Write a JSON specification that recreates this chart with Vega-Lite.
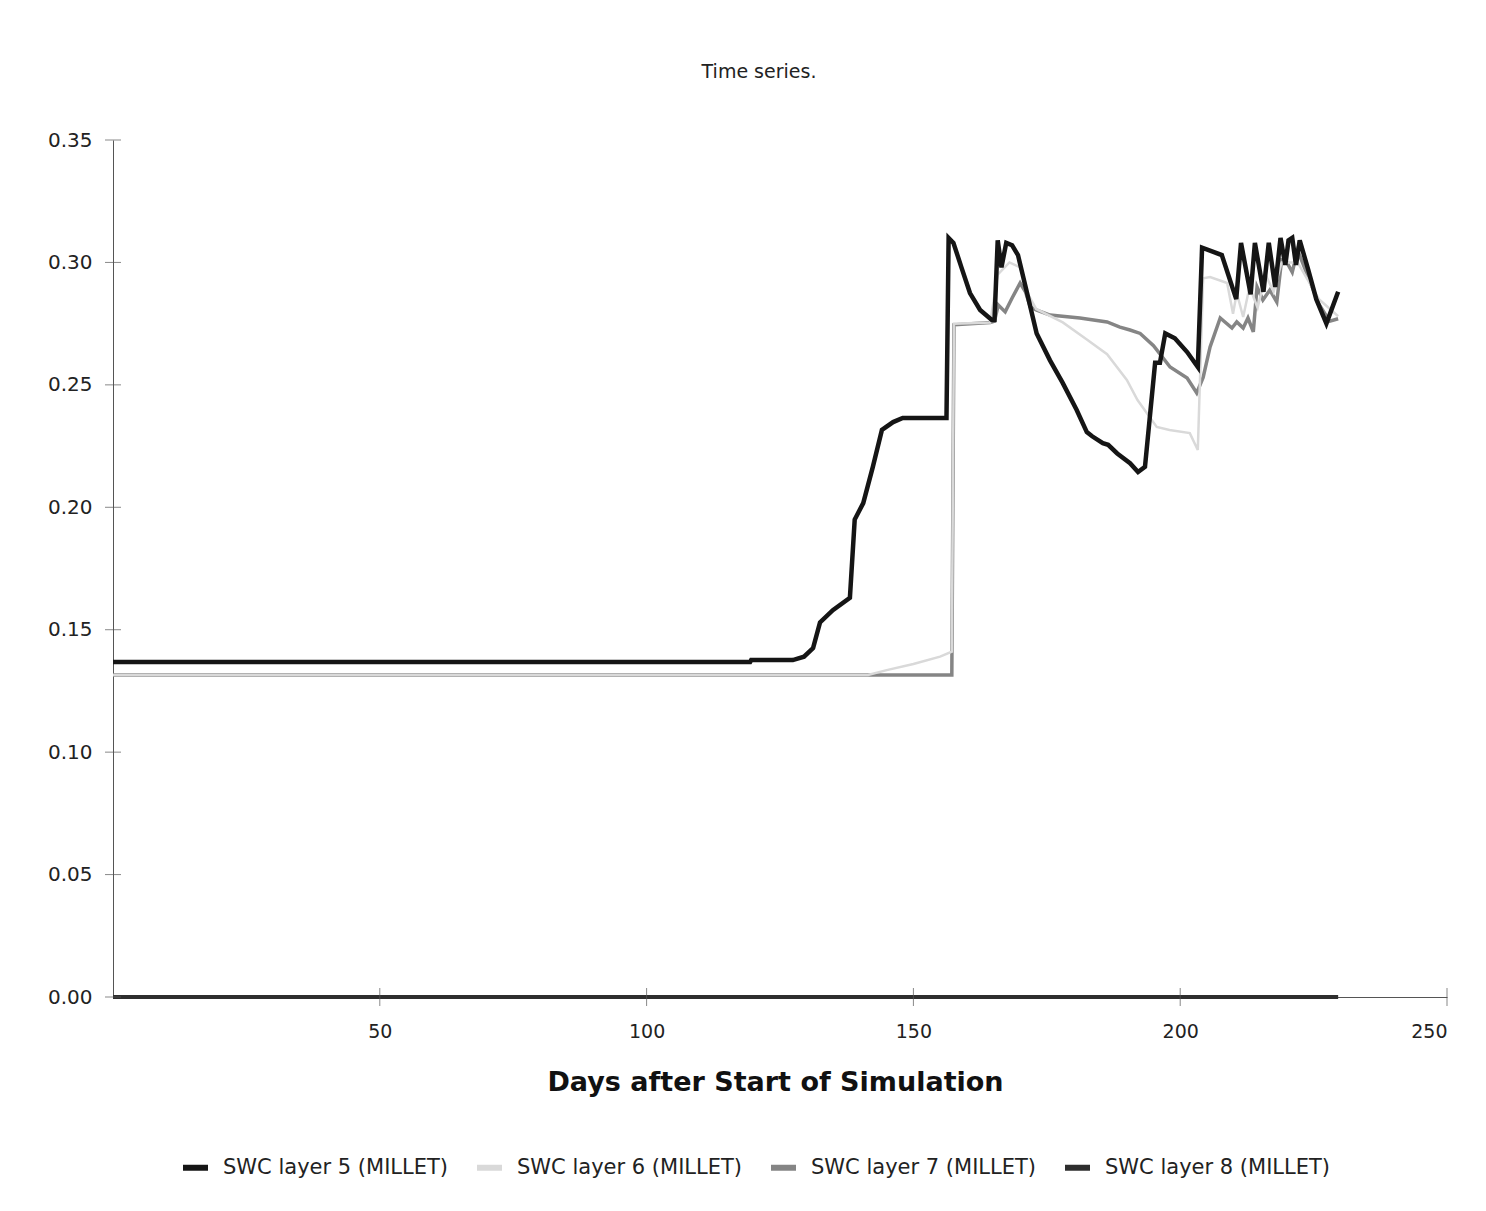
{
  "$schema": "https://vega.github.io/schema/vega-lite/v6.json",
  "autosize": "none",
  "width": 1334,
  "height": 857,
  "padding": {"left": 113, "top": 140, "right": 39, "bottom": 214},
  "background": "white",
  "config": {
    "font": "DejaVu Sans",
    "view": {"stroke": null}
  },
  "title": {
    "text": "Time series.",
    "fontSize": 19,
    "fontWeight": "normal",
    "color": "#222",
    "anchor": "middle",
    "frame": "group",
    "baseline": "alphabetic",
    "offset": 33,
    "dx": -21
  },
  "datasets": {
    "swc": [
      {"series": "SWC layer 8 (MILLET)", "day": 0, "swc": 0},
      {"series": "SWC layer 8 (MILLET)", "day": 229.6, "swc": 0},

      {"series": "SWC layer 7 (MILLET)", "day": 0, "swc": 0.1315},
      {"series": "SWC layer 7 (MILLET)", "day": 157.2, "swc": 0.1315},
      {"series": "SWC layer 7 (MILLET)", "day": 157.6, "swc": 0.2745},
      {"series": "SWC layer 7 (MILLET)", "day": 164.4, "swc": 0.2755},
      {"series": "SWC layer 7 (MILLET)", "day": 165.2, "swc": 0.276},
      {"series": "SWC layer 7 (MILLET)", "day": 165.9, "swc": 0.2826},
      {"series": "SWC layer 7 (MILLET)", "day": 167.2, "swc": 0.2798},
      {"series": "SWC layer 7 (MILLET)", "day": 168.5, "swc": 0.2855},
      {"series": "SWC layer 7 (MILLET)", "day": 170.0, "swc": 0.2916},
      {"series": "SWC layer 7 (MILLET)", "day": 171.0, "swc": 0.288},
      {"series": "SWC layer 7 (MILLET)", "day": 171.9, "swc": 0.2818},
      {"series": "SWC layer 7 (MILLET)", "day": 173.0, "swc": 0.2806},
      {"series": "SWC layer 7 (MILLET)", "day": 175.6, "swc": 0.2785},
      {"series": "SWC layer 7 (MILLET)", "day": 181.2, "swc": 0.2773},
      {"series": "SWC layer 7 (MILLET)", "day": 186.3, "swc": 0.2757},
      {"series": "SWC layer 7 (MILLET)", "day": 188.7, "swc": 0.2736},
      {"series": "SWC layer 7 (MILLET)", "day": 190.6, "swc": 0.2724},
      {"series": "SWC layer 7 (MILLET)", "day": 192.5, "swc": 0.271},
      {"series": "SWC layer 7 (MILLET)", "day": 195.0, "swc": 0.266},
      {"series": "SWC layer 7 (MILLET)", "day": 198.1, "swc": 0.2573},
      {"series": "SWC layer 7 (MILLET)", "day": 201.3, "swc": 0.2528},
      {"series": "SWC layer 7 (MILLET)", "day": 203.1, "swc": 0.2467},
      {"series": "SWC layer 7 (MILLET)", "day": 204.3, "swc": 0.253},
      {"series": "SWC layer 7 (MILLET)", "day": 205.6, "swc": 0.2655},
      {"series": "SWC layer 7 (MILLET)", "day": 207.5, "swc": 0.2773},
      {"series": "SWC layer 7 (MILLET)", "day": 209.7, "swc": 0.2732},
      {"series": "SWC layer 7 (MILLET)", "day": 210.6, "swc": 0.2757},
      {"series": "SWC layer 7 (MILLET)", "day": 211.8, "swc": 0.2732},
      {"series": "SWC layer 7 (MILLET)", "day": 212.7, "swc": 0.2773},
      {"series": "SWC layer 7 (MILLET)", "day": 213.7, "swc": 0.2716},
      {"series": "SWC layer 7 (MILLET)", "day": 214.4, "swc": 0.29},
      {"series": "SWC layer 7 (MILLET)", "day": 215.5, "swc": 0.2847},
      {"series": "SWC layer 7 (MILLET)", "day": 216.8, "swc": 0.2887},
      {"series": "SWC layer 7 (MILLET)", "day": 218.1, "swc": 0.2838},
      {"series": "SWC layer 7 (MILLET)", "day": 219.0, "swc": 0.301},
      {"series": "SWC layer 7 (MILLET)", "day": 220.0, "swc": 0.300},
      {"series": "SWC layer 7 (MILLET)", "day": 221.0, "swc": 0.296},
      {"series": "SWC layer 7 (MILLET)", "day": 222.0, "swc": 0.305},
      {"series": "SWC layer 7 (MILLET)", "day": 224.0, "swc": 0.294},
      {"series": "SWC layer 7 (MILLET)", "day": 226.0, "swc": 0.283},
      {"series": "SWC layer 7 (MILLET)", "day": 228.0, "swc": 0.276},
      {"series": "SWC layer 7 (MILLET)", "day": 229.6, "swc": 0.277},

      {"series": "SWC layer 6 (MILLET)", "day": 0, "swc": 0.1315},
      {"series": "SWC layer 6 (MILLET)", "day": 141.5, "swc": 0.1315},
      {"series": "SWC layer 6 (MILLET)", "day": 145.0, "swc": 0.1335},
      {"series": "SWC layer 6 (MILLET)", "day": 150.0, "swc": 0.136},
      {"series": "SWC layer 6 (MILLET)", "day": 155.0, "swc": 0.139},
      {"series": "SWC layer 6 (MILLET)", "day": 157.2, "swc": 0.141},
      {"series": "SWC layer 6 (MILLET)", "day": 157.6, "swc": 0.275},
      {"series": "SWC layer 6 (MILLET)", "day": 164.4, "swc": 0.2755},
      {"series": "SWC layer 6 (MILLET)", "day": 165.8, "swc": 0.295},
      {"series": "SWC layer 6 (MILLET)", "day": 168.0, "swc": 0.300},
      {"series": "SWC layer 6 (MILLET)", "day": 170.0, "swc": 0.298},
      {"series": "SWC layer 6 (MILLET)", "day": 171.5, "swc": 0.287},
      {"series": "SWC layer 6 (MILLET)", "day": 173.0, "swc": 0.281},
      {"series": "SWC layer 6 (MILLET)", "day": 178.0, "swc": 0.2755},
      {"series": "SWC layer 6 (MILLET)", "day": 182.5, "swc": 0.2685},
      {"series": "SWC layer 6 (MILLET)", "day": 186.3, "swc": 0.2625},
      {"series": "SWC layer 6 (MILLET)", "day": 190.0, "swc": 0.252},
      {"series": "SWC layer 6 (MILLET)", "day": 192.0, "swc": 0.2438},
      {"series": "SWC layer 6 (MILLET)", "day": 195.6, "swc": 0.2328},
      {"series": "SWC layer 6 (MILLET)", "day": 198.0, "swc": 0.2316},
      {"series": "SWC layer 6 (MILLET)", "day": 201.8, "swc": 0.2303},
      {"series": "SWC layer 6 (MILLET)", "day": 203.3, "swc": 0.2234},
      {"series": "SWC layer 6 (MILLET)", "day": 204.3, "swc": 0.2935},
      {"series": "SWC layer 6 (MILLET)", "day": 205.6, "swc": 0.294},
      {"series": "SWC layer 6 (MILLET)", "day": 208.8, "swc": 0.2916},
      {"series": "SWC layer 6 (MILLET)", "day": 209.9, "swc": 0.279},
      {"series": "SWC layer 6 (MILLET)", "day": 210.6, "swc": 0.2875},
      {"series": "SWC layer 6 (MILLET)", "day": 211.8, "swc": 0.2777},
      {"series": "SWC layer 6 (MILLET)", "day": 213.0, "swc": 0.29},
      {"series": "SWC layer 6 (MILLET)", "day": 214.5, "swc": 0.2815},
      {"series": "SWC layer 6 (MILLET)", "day": 216.0, "swc": 0.295},
      {"series": "SWC layer 6 (MILLET)", "day": 217.5, "swc": 0.288},
      {"series": "SWC layer 6 (MILLET)", "day": 219.0, "swc": 0.300},
      {"series": "SWC layer 6 (MILLET)", "day": 222.0, "swc": 0.300},
      {"series": "SWC layer 6 (MILLET)", "day": 226.0, "swc": 0.285},
      {"series": "SWC layer 6 (MILLET)", "day": 229.6, "swc": 0.278},

      {"series": "SWC layer 5 (MILLET)", "day": 0, "swc": 0.1368},
      {"series": "SWC layer 5 (MILLET)", "day": 119.4, "swc": 0.1368},
      {"series": "SWC layer 5 (MILLET)", "day": 119.6, "swc": 0.1376},
      {"series": "SWC layer 5 (MILLET)", "day": 127.4, "swc": 0.1376},
      {"series": "SWC layer 5 (MILLET)", "day": 129.5, "swc": 0.139},
      {"series": "SWC layer 5 (MILLET)", "day": 131.2, "swc": 0.1425},
      {"series": "SWC layer 5 (MILLET)", "day": 132.5, "swc": 0.153},
      {"series": "SWC layer 5 (MILLET)", "day": 134.9, "swc": 0.158},
      {"series": "SWC layer 5 (MILLET)", "day": 138.1, "swc": 0.163},
      {"series": "SWC layer 5 (MILLET)", "day": 139.0, "swc": 0.195},
      {"series": "SWC layer 5 (MILLET)", "day": 140.6, "swc": 0.2017},
      {"series": "SWC layer 5 (MILLET)", "day": 142.4, "swc": 0.2165},
      {"series": "SWC layer 5 (MILLET)", "day": 144.1, "swc": 0.2316},
      {"series": "SWC layer 5 (MILLET)", "day": 146.2, "swc": 0.2348},
      {"series": "SWC layer 5 (MILLET)", "day": 148.0, "swc": 0.2365},
      {"series": "SWC layer 5 (MILLET)", "day": 156.2, "swc": 0.2365},
      {"series": "SWC layer 5 (MILLET)", "day": 156.6, "swc": 0.310},
      {"series": "SWC layer 5 (MILLET)", "day": 157.5, "swc": 0.308},
      {"series": "SWC layer 5 (MILLET)", "day": 159.0, "swc": 0.298},
      {"series": "SWC layer 5 (MILLET)", "day": 160.6, "swc": 0.2875},
      {"series": "SWC layer 5 (MILLET)", "day": 162.5, "swc": 0.2806},
      {"series": "SWC layer 5 (MILLET)", "day": 164.7, "swc": 0.2765},
      {"series": "SWC layer 5 (MILLET)", "day": 165.2, "swc": 0.2765},
      {"series": "SWC layer 5 (MILLET)", "day": 165.8, "swc": 0.309},
      {"series": "SWC layer 5 (MILLET)", "day": 166.5, "swc": 0.298},
      {"series": "SWC layer 5 (MILLET)", "day": 167.4, "swc": 0.308},
      {"series": "SWC layer 5 (MILLET)", "day": 168.5, "swc": 0.307},
      {"series": "SWC layer 5 (MILLET)", "day": 169.6, "swc": 0.303},
      {"series": "SWC layer 5 (MILLET)", "day": 171.3, "swc": 0.2875},
      {"series": "SWC layer 5 (MILLET)", "day": 173.1, "swc": 0.271},
      {"series": "SWC layer 5 (MILLET)", "day": 175.6, "swc": 0.260},
      {"series": "SWC layer 5 (MILLET)", "day": 178.0, "swc": 0.2507},
      {"series": "SWC layer 5 (MILLET)", "day": 180.6, "swc": 0.2397},
      {"series": "SWC layer 5 (MILLET)", "day": 182.5, "swc": 0.2307},
      {"series": "SWC layer 5 (MILLET)", "day": 183.5, "swc": 0.229},
      {"series": "SWC layer 5 (MILLET)", "day": 185.5, "swc": 0.2262},
      {"series": "SWC layer 5 (MILLET)", "day": 186.5, "swc": 0.2255},
      {"series": "SWC layer 5 (MILLET)", "day": 188.2, "swc": 0.222},
      {"series": "SWC layer 5 (MILLET)", "day": 190.6, "swc": 0.218},
      {"series": "SWC layer 5 (MILLET)", "day": 192.1, "swc": 0.2144},
      {"series": "SWC layer 5 (MILLET)", "day": 193.4, "swc": 0.2165},
      {"series": "SWC layer 5 (MILLET)", "day": 195.3, "swc": 0.259},
      {"series": "SWC layer 5 (MILLET)", "day": 196.2, "swc": 0.259},
      {"series": "SWC layer 5 (MILLET)", "day": 197.2, "swc": 0.271},
      {"series": "SWC layer 5 (MILLET)", "day": 199.0, "swc": 0.269},
      {"series": "SWC layer 5 (MILLET)", "day": 201.3, "swc": 0.2634},
      {"series": "SWC layer 5 (MILLET)", "day": 203.3, "swc": 0.2573},
      {"series": "SWC layer 5 (MILLET)", "day": 204.1, "swc": 0.306},
      {"series": "SWC layer 5 (MILLET)", "day": 207.8, "swc": 0.303},
      {"series": "SWC layer 5 (MILLET)", "day": 210.5, "swc": 0.285},
      {"series": "SWC layer 5 (MILLET)", "day": 211.4, "swc": 0.308},
      {"series": "SWC layer 5 (MILLET)", "day": 213.2, "swc": 0.287},
      {"series": "SWC layer 5 (MILLET)", "day": 214.0, "swc": 0.308},
      {"series": "SWC layer 5 (MILLET)", "day": 215.6, "swc": 0.288},
      {"series": "SWC layer 5 (MILLET)", "day": 216.6, "swc": 0.308},
      {"series": "SWC layer 5 (MILLET)", "day": 217.8, "swc": 0.290},
      {"series": "SWC layer 5 (MILLET)", "day": 218.8, "swc": 0.310},
      {"series": "SWC layer 5 (MILLET)", "day": 219.7, "swc": 0.299},
      {"series": "SWC layer 5 (MILLET)", "day": 220.3, "swc": 0.309},
      {"series": "SWC layer 5 (MILLET)", "day": 221.0, "swc": 0.310},
      {"series": "SWC layer 5 (MILLET)", "day": 221.7, "swc": 0.299},
      {"series": "SWC layer 5 (MILLET)", "day": 222.4, "swc": 0.309},
      {"series": "SWC layer 5 (MILLET)", "day": 224.0, "swc": 0.297},
      {"series": "SWC layer 5 (MILLET)", "day": 225.5, "swc": 0.285},
      {"series": "SWC layer 5 (MILLET)", "day": 227.4, "swc": 0.275},
      {"series": "SWC layer 5 (MILLET)", "day": 229.6, "swc": 0.288}
    ]
  },
  "layer": [
    {
      "data": {"name": "swc"},
      "transform": [{"filter": "datum.series === 'SWC layer 8 (MILLET)'"}],
      "mark": {"type": "line", "strokeWidth": 4, "strokeJoin": "miter", "interpolate": "linear"},
      "encoding": {
        "x": {
          "field": "day", "type": "quantitative",
          "scale": {"domain": [0, 250], "nice": false, "zero": false},
          "axis": {
            "values": [50, 100, 150, 200, 250],
            "title": "Days after Start of Simulation",
            "grid": false, "ticks": false,
            "labelPadding": 25, "labelFontSize": 19, "labelColor": "#222",
            "domainColor": "#555", "domainWidth": 1,
            "titleFontSize": 27, "titleFontWeight": "bold", "titleColor": "#111",
            "titleX": 662, "titleY": 93, "titleBaseline": "alphabetic", "titleAlign": "center"
          }
        },
        "y": {
          "field": "swc", "type": "quantitative",
          "scale": {"domain": [0, 0.35], "nice": false},
          "axis": {
            "values": [0, 0.05, 0.1, 0.15, 0.2, 0.25, 0.3, 0.35],
            "format": ".2f", "title": null,
            "grid": false, "ticks": false,
            "labelPadding": 21, "labelFontSize": 20, "labelColor": "#222",
            "domainColor": "#555", "domainWidth": 1
          }
        },
        "color": {
          "field": "series", "type": "nominal",
          "scale": {
            "domain": ["SWC layer 5 (MILLET)", "SWC layer 6 (MILLET)", "SWC layer 7 (MILLET)", "SWC layer 8 (MILLET)"],
            "range": ["#151515", "#d9d9d9", "#858585", "#2e2e2e"]
          },
          "legend": {
            "orient": "none", "legendX": 67, "legendY": 1012,
            "direction": "horizontal", "columns": 4, "title": null,
            "symbolType": "stroke", "symbolSize": 625, "symbolStrokeWidth": 6,
            "labelFontSize": 21, "labelColor": "#222", "labelOffset": 12,
            "columnPadding": 16, "labelLimit": 400
          }
        }
      }
    },
    {
      "data": {"name": "swc"},
      "transform": [{"filter": "datum.series === 'SWC layer 7 (MILLET)'"}],
      "mark": {"type": "line", "strokeWidth": 3.5, "strokeJoin": "miter"},
      "encoding": {
        "x": {"field": "day", "type": "quantitative", "scale": {"domain": [0, 250]}},
        "y": {"field": "swc", "type": "quantitative", "scale": {"domain": [0, 0.35]}},
        "color": {"field": "series", "type": "nominal"}
      }
    },
    {
      "data": {"name": "swc"},
      "transform": [{"filter": "datum.series === 'SWC layer 6 (MILLET)'"}],
      "mark": {"type": "line", "strokeWidth": 2.5, "strokeJoin": "miter"},
      "encoding": {
        "x": {"field": "day", "type": "quantitative", "scale": {"domain": [0, 250]}},
        "y": {"field": "swc", "type": "quantitative", "scale": {"domain": [0, 0.35]}},
        "color": {"field": "series", "type": "nominal"}
      }
    },
    {
      "data": {"name": "swc"},
      "transform": [{"filter": "datum.series === 'SWC layer 5 (MILLET)'"}],
      "mark": {"type": "line", "strokeWidth": 4.5, "strokeJoin": "miter"},
      "encoding": {
        "x": {"field": "day", "type": "quantitative", "scale": {"domain": [0, 250]}},
        "y": {"field": "swc", "type": "quantitative", "scale": {"domain": [0, 0.35]}},
        "color": {"field": "series", "type": "nominal"}
      }
    },
    {
      "data": {"values": [{"v": 0}, {"v": 0.05}, {"v": 0.1}, {"v": 0.15}, {"v": 0.2}, {"v": 0.25}, {"v": 0.3}, {"v": 0.35}]},
      "mark": {"type": "tick", "orient": "horizontal", "size": 16, "thickness": 1, "color": "#555"},
      "encoding": {
        "x": {"datum": 0, "type": "quantitative", "scale": {"domain": [0, 250]}},
        "y": {"field": "v", "type": "quantitative", "scale": {"domain": [0, 0.35]}}
      }
    },
    {
      "data": {"values": [{"d": 50}, {"d": 100}, {"d": 150}, {"d": 200}, {"d": 250}]},
      "mark": {"type": "tick", "orient": "vertical", "size": 18, "thickness": 1, "color": "#555"},
      "encoding": {
        "x": {"field": "d", "type": "quantitative", "scale": {"domain": [0, 250]}},
        "y": {"datum": 0, "type": "quantitative", "scale": {"domain": [0, 0.35]}}
      }
    }
  ]
}
